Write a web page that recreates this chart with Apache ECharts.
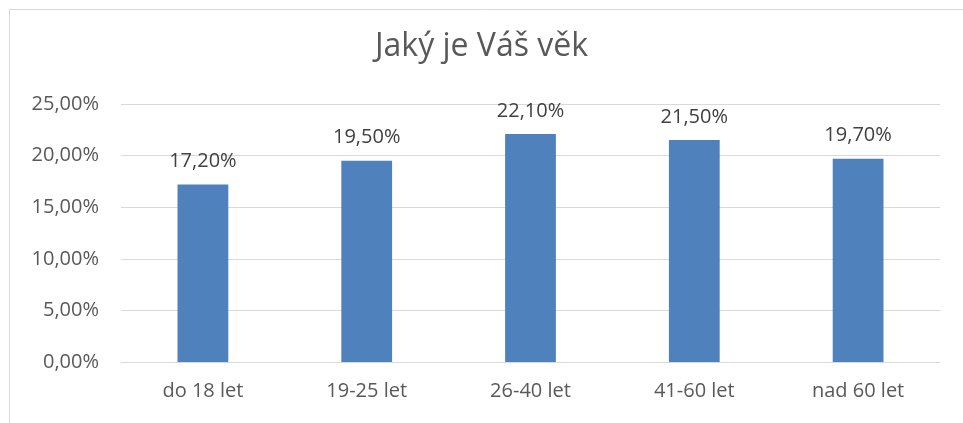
<!DOCTYPE html>
<html>
<head>
<meta charset="utf-8">
<script src="https://cdn.jsdelivr.net/npm/echarts@6/dist/echarts.min.js"></script>
<style>html,body{margin:0;padding:0;background:#fff}#c{width:963px;height:423px}</style>
</head>
<body>
<div id="c"></div>
<script>
var categories = ['do 18 let', '19-25 let', '26-40 let', '41-60 let', 'nad 60 let'];
var values = [17.2, 19.5, 22.1, 21.5, 19.7];
var yTicks = [0, 5, 10, 15, 20, 25];

function pct(v) { return v.toFixed(2).replace('.', ',') + '%'; }

var chart = echarts.init(document.getElementById('c'), null, {renderer: 'canvas'});
var font = '"Open Sans", "Noto Sans", sans-serif';
chart.setOption({
  animation: false,
  backgroundColor: '#fff',
  graphic: [{
    type: 'rect', shape: {x: 9.5, y: 9.5, width: 1200, height: 1200},
    style: {fill: 'none', stroke: '#d9d9d9', lineWidth: 1}, silent: true
  }],
  title: {
    text: 'Jaký je Váš věk', left: 'center', top: 26,
    textStyle: {fontFamily: font, fontSize: 32, fontWeight: 'normal', color: '#595959'}
  },
  grid: {left: 121, right: 23, top: 104, bottom: 61, containLabel: false},
  xAxis: {
    type: 'category', data: categories,
    axisLine: {show: true, lineStyle: {color: '#d9d9d9', width: 1}},
    axisTick: {show: false},
    axisLabel: {fontFamily: font, fontSize: 20, color: '#595959', margin: 19}
  },
  yAxis: {
    type: 'value', min: yTicks[0], max: yTicks[yTicks.length - 1], interval: 5,
    axisLine: {show: false}, axisTick: {show: false},
    splitLine: {lineStyle: {color: '#d9d9d9', width: 1}},
    axisLabel: {fontFamily: font, fontSize: 20, color: '#595959', margin: 22, formatter: function (v) { return pct(v); }}
  },
  series: [{
    type: 'bar', data: values, barWidth: '31%',
    itemStyle: {color: '#4f81bd'},
    label: {show: true, position: 'top', distance: 13, fontFamily: font, fontSize: 20, color: '#404040',
      formatter: function (p) { return pct(p.value); }}
  }]
});
</script>
</body>
</html>
